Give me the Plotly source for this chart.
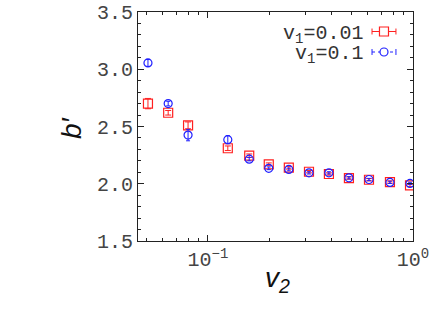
import plotly.graph_objects as go

v2 = [0.051, 0.064, 0.080, 0.125, 0.159, 0.198, 0.248, 0.311, 0.389, 0.487, 0.61, 0.772, 0.967]
b_v1_001 = [2.70, 2.62, 2.51, 2.31, 2.245, 2.17, 2.14, 2.105, 2.085, 2.05, 2.035, 2.015, 1.985]
err_v1_001 = [0.045, 0.02, 0.03, 0.02, 0.015, 0.012, 0.012, 0.01, 0.01, 0.01, 0.01, 0.01, 0.01]
b_v1_01 = [3.055, 2.70, 2.425, 2.385, 2.215, 2.135, 2.125, 2.095, 2.095, 2.052, 2.037, 2.012, 2.003]
err_v1_01 = [0.03, 0.02, 0.05, 0.035, 0.015, 0.012, 0.012, 0.01, 0.01, 0.01, 0.01, 0.01, 0.01]

legend_labels = ["v<sub>1</sub>=0.01", "v<sub>1</sub>=0.1"]
x_tickvals = [0.1, 1]
x_ticktext = ["10<sup>−1</sup>", "10<sup>0</sup>"]
x_minor = [0.05, 0.06, 0.07, 0.08, 0.09, 0.2, 0.3, 0.4, 0.5, 0.6, 0.7, 0.8, 0.9]
y_ticks = [1.5, 2.0, 2.5, 3.0, 3.5]
y_ticktext = ["1.5", "2.0", "2.5", "3.0", "3.5"]

RED = "#ff2020"
BLUE = "#2020ff"
MONO = "Liberation Mono"

fig = go.Figure()
fig.add_trace(go.Scatter(
    x=v2, y=b_v1_001, mode="markers", showlegend=False,
    marker=dict(symbol="square-open", size=9, color=RED, line=dict(width=1.2, color=RED)),
    error_y=dict(type="data", array=err_v1_001, color=RED, thickness=1, width=3),
))
fig.add_trace(go.Scatter(
    x=v2, y=b_v1_01, mode="markers", showlegend=False,
    marker=dict(symbol="circle-open", size=8, color=BLUE, line=dict(width=1.2, color=BLUE)),
    error_y=dict(type="data", array=err_v1_01, color=BLUE, thickness=1, width=2),
))

axcommon = dict(showgrid=False, zeroline=False, showline=True, linecolor="#222", linewidth=1,
                mirror="ticks", ticks="inside", tickcolor="#222", automargin=False,
                tickfont=dict(family=MONO, size=20, color="#444"))

fig.update_xaxes(type="log", range=[-1.341, 0.0], tickvals=x_tickvals, ticktext=x_ticktext,
                 ticklen=6,
                 minor=dict(ticks="inside", ticklen=3, tickvals=x_minor, tickcolor="#222"),
                 **axcommon)
fig.update_yaxes(range=[1.5, 3.5], tickvals=y_ticks, ticktext=y_ticktext, ticklen=6,
                 minor=dict(ticks="inside", ticklen=3, dtick=0.1, tickcolor="#222"),
                 **axcommon)

shapes = []
# legend samples (decoration, paper coords)
rows = [(0.9148, RED, "solid", "square"), (0.8253, BLUE, "dot", "circle")]
for yp, col, dash, sym in rows:
    x0, x1, xc = 0.851, 0.938, 0.8945
    shapes.append(dict(type="line", xref="paper", yref="paper", x0=x0, x1=x1, y0=yp, y1=yp,
                       line=dict(color=col, width=1, dash=dash)))
    for xe in (x0, x1):
        shapes.append(dict(type="line", xref="paper", yref="paper", x0=xe, x1=xe,
                           y0=yp - 0.013, y1=yp + 0.013, line=dict(color=col, width=1)))
    if sym == "square":
        shapes.append(dict(type="rect", xref="paper", yref="paper", x0=xc - 0.0164, x1=xc + 0.0164,
                           y0=yp - 0.0197, y1=yp + 0.0197, line=dict(color=col, width=1.2),
                           fillcolor="white"))
    else:
        shapes.append(dict(type="circle", xref="paper", yref="paper", x0=xc - 0.0145, x1=xc + 0.0145,
                           y0=yp - 0.0175, y1=yp + 0.0175, line=dict(color=col, width=1.2),
                           fillcolor="white"))

annotations = []
for (yp, col, dash, sym), lab in zip(rows, legend_labels):
    annotations.append(dict(text=lab, xref="paper", yref="paper", x=0.8255, y=yp - 0.012,
                            xanchor="right", yanchor="middle", showarrow=False,
                            font=dict(family=MONO, size=20, color="#333")))
annotations.append(dict(text="<i>b′</i>", xref="paper", yref="paper", x=-0.2436, y=0.493,
                        textangle=-90, showarrow=False, xanchor="center", yanchor="middle",
                        font=dict(family="Liberation Sans", size=28, color="#111")))
annotations.append(dict(text="<i>v<sub>2</sub></i>", xref="paper", yref="paper", x=0.509, y=-0.17,
                        showarrow=False, xanchor="center", yanchor="middle",
                        font=dict(family="Liberation Sans", size=28, color="#111")))

fig.update_layout(width=436, height=312, margin=dict(l=138, r=23, t=12, b=71),
                  plot_bgcolor="white", paper_bgcolor="white",
                  shapes=shapes, annotations=annotations)

fig.write_html("out.html", config={"displayModeBar": False},
               post_script="document.body.style.margin='0';document.body.style.overflow='hidden';")
